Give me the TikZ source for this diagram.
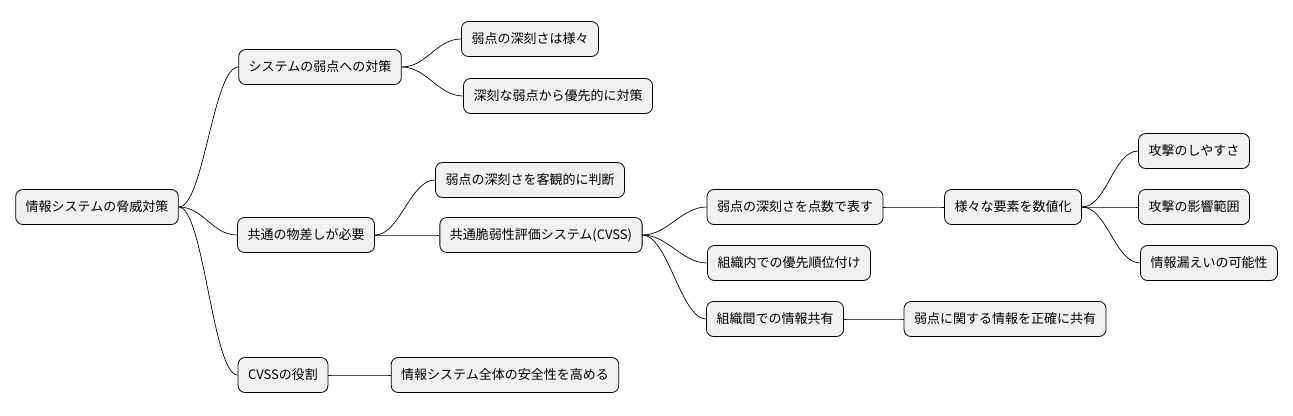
\documentclass[tikz,border=0pt]{standalone}
\usepackage{fontspec}
\newfontfamily\jp{Noto Sans CJK JP}
\definecolor{nodefill}{HTML}{F1F1F1}
\begin{document}
\begin{tikzpicture}[x=1pt,y=-1pt,
  mm/.style={draw=black,fill=nodefill,rounded corners=7pt,minimum height=35pt,inner xsep=10pt,font=\jp\fontsize{13}{15}\selectfont,line width=0.8pt},
  conn/.style={draw=black,line width=0.7pt}]
\useasboundingbox (0,0) rectangle (1293,415);
\node[mm] (root) at (97,207) {情報システムの脅威対策};
\node[mm] (a) at (320,67) {システムの弱点への対策};
\node[mm] (a1) at (530,39) {弱点の深刻さは様々};
\node[mm] (a2) at (558,96) {深刻な弱点から優先的に対策};
\node[mm] (b) at (306,235) {共通の物差しが必要};
\node[mm] (b1) at (530,180) {弱点の深刻さを客観的に判断};
\node[mm] (b2) at (541,235) {共通脆弱性評価システム(CVSS)};
\node[mm] (c1) at (795,207) {弱点の深刻さを点数で表す};
\node[mm] (d) at (1013,207) {様々な要素を数値化};
\node[mm] (d1) at (1194,151) {攻撃のしやすさ};
\node[mm] (d2) at (1194,207) {攻撃の影響範囲};
\node[mm] (d3) at (1209,263) {情報漏えいの可能性};
\node[mm] (c2) at (789,263) {組織内での優先順位付け};
\node[mm] (c3) at (775,319) {組織間での情報共有};
\node[mm] (c31) at (1005,319) {弱点に関する情報を正確に共有};
\node[mm] (e) at (283,375) {CVSSの役割};
\node[mm] (e1) at (505,375) {情報システム全体の安全性を高める};
\foreach \p/\c in {root/a,root/b,root/e,a/a1,a/a2,b/b1,b/b2,b2/c1,b2/c2,b2/c3,c1/d,d/d1,d/d2,d/d3,c3/c31,e/e1}
  \draw[conn] (\p.east) .. controls +(25,0) and +(-25,0) .. (\c.west);
\end{tikzpicture}
\end{document}
